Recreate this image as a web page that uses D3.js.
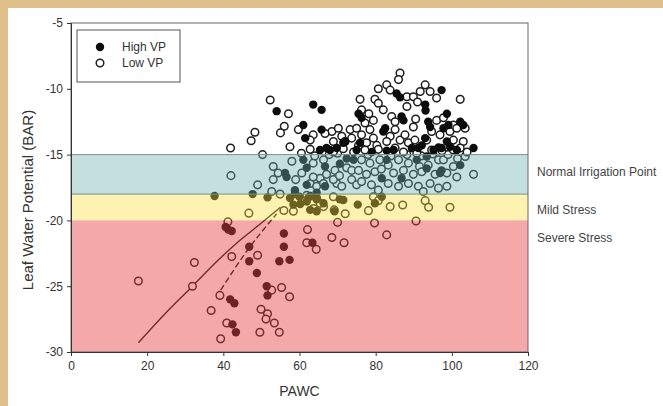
<!DOCTYPE html>
<html><head><meta charset="utf-8">
<script src="https://cdn.jsdelivr.net/npm/d3@7"></script>
<style>
html,body{margin:0;padding:0;background:#fff;}
svg{display:block;}
text{font-family:Arial,"Liberation Sans",Helvetica,sans-serif;}
</style></head>
<body>
<svg id="chart" width="663" height="406"></svg>
<script>
// ---- data ----
const xTicks = [0, 20, 40, 60, 80, 100, 120];
const yTicks = [-5, -10, -15, -20, -25, -30];
const bandNames = ["Normal Irrigation Point", "Mild Stress", "Severe Stress"];
const bandTop = [-15, -18, -20];
const bandBottom = [-18, -20, -30];
const seriesNames = ["High VP", "Low VP"];

const highVP = [
 [40.6,-20.5],[41.3,-20.7],[42.2,-20.8],[46.8,-22.0],[46.8,-23.1],[48.8,-24.0],[55.9,-21.0],[55.9,-22.0],
 [54.7,-23.1],[57.4,-23.0],[51.4,-25.0],[51.6,-25.7],[41.8,-26.0],[42.9,-26.3],[42.4,-27.9],[43.3,-28.5],[63.4,-21.7],
 [37.7,-18.15],[47.7,-18.0],[51.6,-18.25],[57.5,-18.3],[58.8,-18.0],[60.0,-18.2],[60.2,-18.75],[58.4,-18.8],
 [62.8,-18.15],[64.5,-19.3],[71.5,-18.45],[75.3,-18.8],[62.8,-19.2],[62.3,-18.3],[69.2,-19.3],[81.6,-18.2],
 [79.8,-18.7],[61.9,-18.57],[64.5,-18.4],[66.3,-18.7],[70.6,-18.4],
 [56.2,-16.4],[56.6,-16.7],[61.0,-15.4],[61.9,-16.0],[66.7,-15.9],[58.8,-17.7],[64.5,-17.9],[66.7,-17.4],
 [70.6,-15.7],[72.4,-15.3],[74.2,-15.4],[81.6,-16.8],[93.4,-16.05],[86.8,-16.8],[102.2,-15.8],[97.3,-16.2],
 [61.9,-17.3],[96.9,-16.4],[90.8,-15.4],[93.4,-15.15],[82.9,-15.4],
 [63.6,-11.2],[65.8,-11.6],[54.0,-11.7],[61.0,-12.75],[61.5,-13.75],[65.8,-13.1],[72.0,-14.0],[65.4,-14.65],
 [68.0,-14.65],[69.8,-14.5],[85.5,-10.35],[86.4,-10.65],[93.0,-11.2],[93.1,-11.65],[75.5,-11.9],[86.8,-12.1],
 [87.3,-12.4],[82.5,-13.0],[82.0,-13.25],[93.8,-12.5],[94.3,-12.9],[93.0,-13.75],[92.1,-14.3],[75.0,-14.65],
 [79.0,-14.8],[82.9,-14.7],[89.5,-14.5],[96.5,-14.45],[97.3,-10.1],[98.7,-11.9],[99.1,-12.75],[102.2,-12.5],
 [103.0,-12.75],[97.8,-13.0],[105.7,-14.5],[98.7,-14.0],[99.5,-14.4],[97.3,-14.5],[76.3,-12.2],[71.5,-14.1],
 [75.9,-14.1],[67.1,-14.5],[84.7,-14.65],[91.2,-14.5],[95.2,-14.65],[101.3,-14.65]
];

const lowVP = [
 [17.7,-24.6],[32.4,-23.2],[31.9,-25.0],[42.2,-22.75],[49.0,-22.65],[41.2,-20.1],[52.7,-25.3],[55.3,-25.1],
 [57.4,-25.8],[39.1,-25.7],[36.8,-26.85],[40.9,-27.8],[39.3,-29.0],[49.9,-26.75],[51.6,-27.1],[51.2,-27.5],
 [53.4,-27.8],[49.6,-28.5],[54.7,-28.5],[62.1,-20.7],[61.9,-21.7],[64.4,-22.2],[68.5,-21.3],[71.7,-21.7],
 [70.0,-20.15],[79.7,-20.2],[82.9,-21.1],[90.6,-20.05],
 [46.7,-19.45],[54.9,-18.0],[55.9,-19.25],[58.4,-19.3],[61.9,-18.1],[64.5,-18.3],[63.7,-19.1],[66.3,-18.95],
 [69.1,-19.2],[72.0,-19.5],[78.1,-19.26],[79.4,-18.2],[80.7,-18.5],[83.8,-18.95],[87.1,-18.83],[93.0,-18.5],
 [93.9,-19.0],[99.5,-19.0],[65.4,-18.7],[68.9,-18.2],
 [53.1,-15.9],[54.4,-16.4],[53.1,-16.9],[52.7,-17.8],[60.6,-16.4],[62.8,-17.2],[64.5,-17.4],[65.4,-16.8],
 [67.1,-16.5],[69.3,-16.2],[72.4,-16.0],[73.7,-16.9],[69.8,-17.2],[71.1,-17.4],[75.0,-17.3],[73.7,-16.2],
 [76.3,-15.4],[78.5,-15.65],[81.1,-15.4],[83.3,-15.8],[86.0,-15.4],[88.6,-15.65],[91.5,-15.9],[93.8,-15.8],
 [96.5,-15.4],[75.5,-16.2],[77.6,-16.5],[79.8,-16.3],[84.7,-16.4],[87.3,-16.2],[89.9,-16.5],[92.1,-16.3],
 [95.6,-16.5],[76.3,-17.05],[78.9,-17.3],[83.3,-17.2],[86.0,-17.4],[88.6,-17.2],[91.2,-17.4],[94.3,-17.2],
 [96.5,-17.55],[80.7,-17.7],[92.5,-17.8],[97.8,-15.4],[100.4,-15.9],[98.7,-16.4],[101.3,-16.7],[98.7,-17.4],
 [105.7,-16.5],[103.5,-15.15],[63.6,-15.65],[66.3,-15.4],[63.6,-16.7],[66.3,-17.2],[68.9,-16.9],[42.0,-16.6],
 [49.0,-17.3],[50.3,-15.0],
 [60.5,-14.9],[64.0,-15.1],[67.8,-15.0],[70.0,-14.9],[78.0,-15.0],[84.0,-15.1],[88.2,-15.0],[92.0,-15.1],
 [95.0,-14.95],[99.0,-15.0],[101.5,-15.3],[104.0,-14.8],[58.0,-15.5],[59.0,-16.9],[70.5,-16.6],[81.5,-16.1],
 [52.3,-10.85],[57.1,-11.9],[56.0,-12.85],[55.0,-13.35],[59.7,-13.1],[63.6,-13.5],[62.8,-13.9],[68.5,-13.25],
 [70.2,-13.0],[73.3,-13.1],[71.1,-13.6],[68.9,-14.0],[73.7,-13.75],[75.0,-13.0],[57.5,-14.4],[68.9,-14.8],
 [86.4,-8.8],[86.0,-9.3],[82.9,-9.7],[80.7,-10.0],[83.8,-10.1],[93.0,-9.7],[91.7,-10.2],[94.3,-10.2],
 [96.0,-10.7],[88.2,-10.6],[89.9,-10.6],[75.9,-10.8],[79.8,-10.8],[80.7,-11.1],[88.2,-11.35],[76.3,-11.6],
 [84.2,-12.1],[85.1,-12.5],[85.1,-13.1],[83.8,-13.6],[82.9,-14.0],[86.4,-13.9],[87.7,-13.5],[96.0,-12.4],
 [94.7,-13.25],[96.9,-13.5],[93.4,-13.9],[77.2,-12.6],[78.5,-13.1],[76.3,-13.5],[79.4,-13.75],[80.3,-14.3],
 [77.6,-14.1],[75.5,-14.3],[77.2,-14.65],[80.7,-14.6],[85.1,-14.5],[87.3,-14.8],[90.8,-14.9],[94.7,-14.65],
 [88.6,-14.1],[90.3,-13.9],[89.9,-12.9],[102.2,-10.8],[97.8,-12.2],[100.4,-12.75],[99.5,-13.25],[101.3,-13.0],
 [103.5,-13.0],[100.4,-13.9],[103.0,-14.0],[102.2,-14.5],[100.4,-14.65],[79.4,-12.4],[66.7,-13.4],[71.96,-14.0],
 [62.8,-14.6],[71.5,-14.55],[74.2,-14.8],[97.4,-14.7],[48.3,-13.3],[47.3,-13.95],[41.9,-14.5],
 [82.0,-11.6],[90.5,-12.3],[91.0,-11.0],[78.2,-11.9]
];

const solidFit = [[17.7,-29.3],[25,-27.0],[31.9,-25.0],[38,-23.2],[44,-21.6],[50,-20.2],[55,-19.0]];
const dashedFit = [[39.3,-25.3],[46,-22.4],[54,-19.5]];

// ---- layout ----
const svg = d3.select("#chart");
const L = 71, T = 23, R = 528, B = 352;
const x = d3.scaleLinear().domain([0,120]).range([L,R]);
const y = d3.scaleLinear().domain([-30,-5]).range([B,T]);
const FONT = "Arial, 'Liberation Sans', sans-serif";

// frame background
svg.append("rect").attr("x",0).attr("y",0).attr("width",663).attr("height",406).attr("fill","#e0c08b");
svg.append("rect").attr("x",8).attr("y",8).attr("width",655).attr("height",398).attr("fill","#ffffff");

// fit lines (drawn below band overlay so they get tinted)
const line = d3.line().x(d=>x(d[0])).y(d=>y(d[1])).curve(d3.curveMonotoneX);
svg.append("path").datum(solidFit).attr("d",line).attr("fill","none").attr("stroke","#1a1a1a").attr("stroke-width",1.4);
svg.append("path").datum(dashedFit).attr("d",line).attr("fill","none").attr("stroke","#1a1a1a").attr("stroke-width",1.4).attr("stroke-dasharray","6,3");

// points
svg.append("g").selectAll("circle").data(lowVP).join("circle")
  .attr("cx",d=>x(d[0])).attr("cy",d=>y(d[1])).attr("r",3.8)
  .attr("fill","#fff").attr("stroke","#1e1e1e").attr("stroke-width",1.5);
svg.append("g").selectAll("circle").data(highVP).join("circle")
  .attr("cx",d=>x(d[0])).attr("cy",d=>y(d[1])).attr("r",4.2)
  .attr("fill","#0d0d0d");

// band overlays
const bandFill = ["#6cb2ad","#fadf37","#e73e42"];
const bandOp = [0.4, 0.4, 0.45];
svg.append("g").selectAll("rect").data(bandTop).join("rect")
  .attr("x",L).attr("width",R-L)
  .attr("y",(d)=>y(d)).attr("height",(d,i)=>y(bandBottom[i])-y(d))
  .attr("fill",(d,i)=>bandFill[i]).attr("fill-opacity",(d,i)=>bandOp[i]);
svg.append("g").selectAll("line").data([-15,-18]).join("line")
  .attr("x1",L).attr("x2",R).attr("y1",d=>y(d)).attr("y2",d=>y(d))
  .attr("stroke","#7f8f8c").attr("stroke-width",1);

// plot frame
svg.append("rect").attr("x",L).attr("y",T).attr("width",R-L).attr("height",B-T)
  .attr("fill","none").attr("stroke","#666").attr("stroke-width",1);

// axes
const xAxis = svg.append("g").attr("transform",`translate(0,${B})`)
  .call(d3.axisBottom(x).tickValues(xTicks).tickSize(4).tickPadding(5).tickFormat(d3.format("d")));
const yAxis = svg.append("g").attr("transform",`translate(${L},0)`)
  .call(d3.axisLeft(y).tickValues(yTicks).tickSize(4).tickPadding(4).tickFormat(d=>String(d)));
[xAxis,yAxis].forEach(g=>{
  g.select(".domain").attr("stroke","#333");
  g.selectAll(".tick line").attr("stroke","#333");
  g.selectAll(".tick text").attr("fill","#333").style("font-size","12px").style("font-family",FONT);
});

// axis titles
svg.append("text").attr("x",(L+R)/2).attr("y",396).attr("text-anchor","middle")
  .attr("fill","#333").style("font-size","14px").text("PAWC");
svg.append("text").attr("transform",`translate(33,200) rotate(-90)`).attr("text-anchor","middle")
  .attr("fill","#333").style("font-size","15px").text("Leaf Water Potential (BAR)");

// band labels
const bandLabelY = [-16.3, -19.2, -21.3];
svg.append("g").selectAll("text").data(bandNames).join("text")
  .attr("x",R+9).attr("y",(d,i)=>y(bandLabelY[i])).attr("dy","0.35em")
  .attr("fill","#444").style("font-size","12px").text(d=>d);

// legend
const lg = svg.append("g");
lg.append("rect").attr("x",77).attr("y",30).attr("width",103).attr("height",52)
  .attr("fill","#fff").attr("stroke","#555").attr("stroke-width",1);
lg.append("circle").attr("cx",100).attr("cy",47).attr("r",4.2).attr("fill","#0d0d0d");
lg.append("circle").attr("cx",100).attr("cy",63).attr("r",3.8).attr("fill","#fff").attr("stroke","#1e1e1e").attr("stroke-width",1.5);
lg.selectAll("text.lt").data(seriesNames).join("text").attr("class","lt")
  .attr("x",122).attr("y",(d,i)=>47+i*16).attr("dy","0.35em")
  .attr("fill","#333").style("font-size","12px").text(d=>d);
</script>
</body></html>
